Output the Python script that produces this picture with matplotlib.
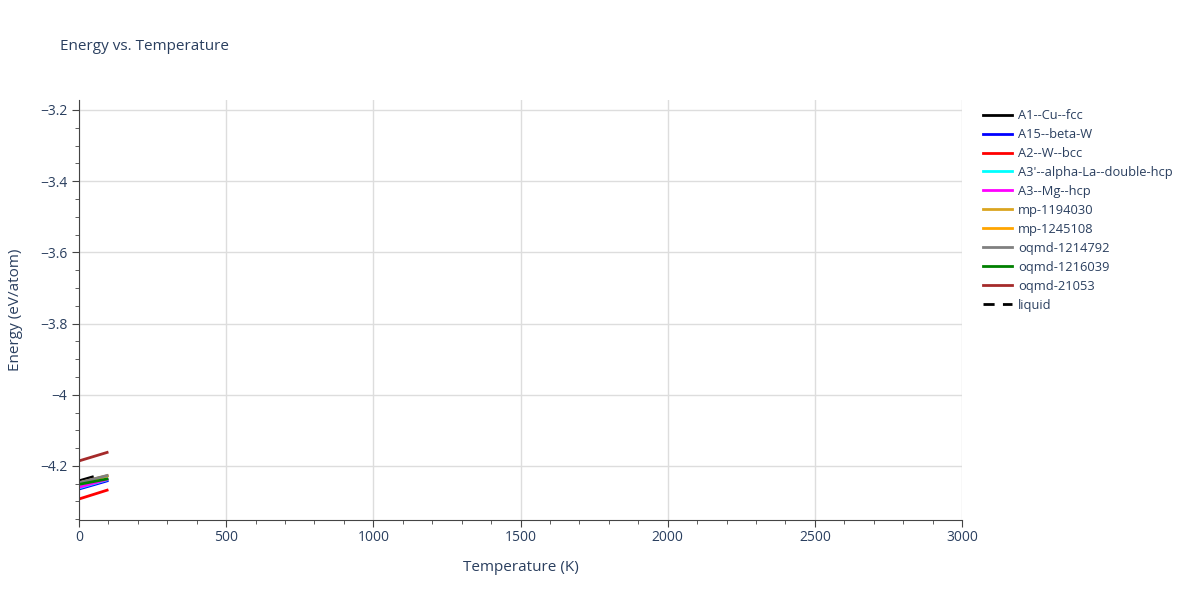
import matplotlib.pyplot as plt
from matplotlib.ticker import MultipleLocator, FuncFormatter
from matplotlib.lines import Line2D

plt.rcParams['font.family'] = ['Open Sans', 'DejaVu Sans']

# phases, colours and energies (T in K, E in eV/atom)
names = ['A1--Cu--fcc', 'A15--beta-W', 'A2--W--bcc', "A3'--alpha-La--double-hcp",
         'A3--Mg--hcp', 'mp-1194030', 'mp-1245108', 'oqmd-1214792',
         'oqmd-1216039', 'oqmd-21053']
colors = ['black', 'blue', 'red', 'cyan', 'magenta', '#DAA520', 'orange',
          'grey', 'green', 'brown']
t_start = [0, 0, 0, 0, 0, 0, 0, 0, 0, 0]
t_end = [50, 100, 100, 100, 100, 100, 100, 100, 100, 100]
e_start = [-4.242, -4.265, -4.293, -4.262, -4.260, -4.248, -4.248, -4.247, -4.252, -4.186]
e_end = [-4.230, -4.241, -4.267, -4.238, -4.237, -4.227, -4.227, -4.226, -4.236, -4.161]

txt = '#2a3f5f'
fig = plt.figure(figsize=(12, 6), dpi=100)
ax = fig.add_axes([79 / 1200, 80 / 600, 883 / 1200, 420 / 600])

for n, c, t0, t1, e0, e1 in zip(names, colors, t_start, t_end, e_start, e_end):
    ax.plot([t0, t1], [e0, e1], color=c, lw=2, label=n, solid_capstyle='butt')

ax.set_xlim(0, 3000)
ax.set_ylim(-4.352, -3.172)
ax.xaxis.set_major_locator(MultipleLocator(500))
ax.xaxis.set_minor_locator(MultipleLocator(100))
ax.yaxis.set_major_locator(MultipleLocator(0.2))
ax.yaxis.set_minor_locator(MultipleLocator(0.05))
ax.yaxis.set_major_formatter(FuncFormatter(lambda v, p: ('%g' % round(v, 2)).replace('-', '\u2212')))

ax.grid(True, which='major', color='#dddddd', lw=1)
ax.set_axisbelow(True)
for s in ['top', 'right']:
    ax.spines[s].set_visible(False)
for s in ['left', 'bottom']:
    ax.spines[s].set_color('#444444')
ax.tick_params(which='major', length=5, color='#444444', labelcolor=txt, labelsize=10)
ax.tick_params(which='minor', length=3, color='#444444')
ax.tick_params(axis='x', pad=2)

ax.set_xlabel('Temperature (K)', color=txt, fontsize=11, labelpad=11)
ax.set_ylabel('Energy (eV/atom)', color=txt, fontsize=11, labelpad=12)
fig.text(60 / 1200, 1 - 46 / 600, 'Energy vs. Temperature', color=txt, fontsize=11, va='center')

handles = [Line2D([], [], color=c, lw=2) for c in colors]
handles.append(Line2D([], [], color='black', lw=2, ls=(0, (4, 3))))
labels = names + ['liquid']
leg = fig.legend(handles, labels, loc='upper left', bbox_to_anchor=(978 / 1200, 1 - 104 / 600),
                 frameon=False, fontsize=9.3, handlelength=2.2, labelspacing=0.46,
                 borderaxespad=0, handletextpad=0.5)
for t in leg.get_texts():
    t.set_color(txt)

fig.savefig('out.png', dpi=100)
